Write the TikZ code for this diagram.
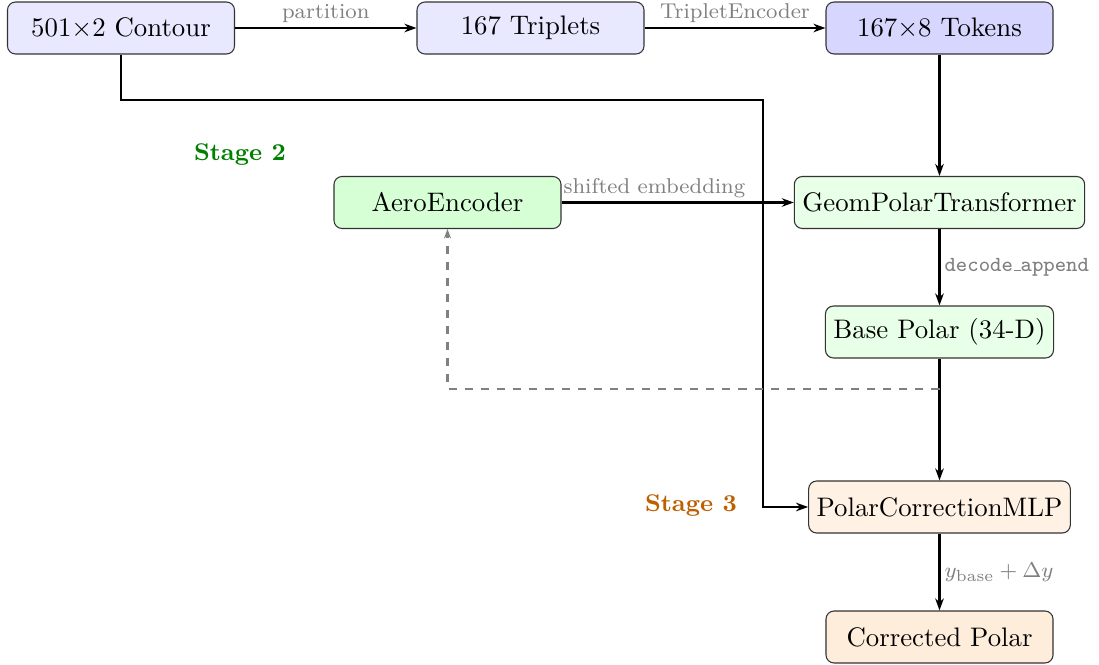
\documentclass[tikz,border=0pt]{standalone}
\usetikzlibrary{arrows.meta,calc}
\newcommand{\ttunder}{\leavevmode\kern.06em\vbox{\hrule width.3em}}
\begin{document}
\begin{tikzpicture}[x=0.3731pt,y=-0.3731pt,
  box/.style={draw=black!80,rounded corners=3pt,minimum width=84.7pt,minimum height=19.4pt,inner xsep=3pt,font=\normalsize},
  arr/.style={thick,-{Stealth[length=4.5pt,width=3.2pt]}},
  lab/.style={font=\footnotesize,text=gray,inner sep=1.5pt},
  stagelab/.style={font=\small\bfseries}
]
\useasboundingbox (0,0) rectangle (1099,665);
\node[box,fill=blue!9] (contour) at (121,28) {$501{\times}2$ Contour};
\node[box,fill=blue!9] (trip) at (530.5,28) {167 Triplets};
\node[box,fill=blue!16] (tok) at (939.5,28) {$167{\times}8$ Tokens};
\node[box,fill=green!16] (aero) at (447.5,202.5) {AeroEncoder};
\node[box,fill=green!9] (geom) at (939.5,202.5) {GeomPolarTransformer};
\node[box,fill=green!9] (base) at (939.5,332) {Base Polar (34-D)};
\node[box,fill=orange!10] (pcm) at (939.5,507) {PolarCorrectionMLP};
\node[box,fill=orange!14] (corr) at (939.5,637) {Corrected Polar};
\node[stagelab,text=green!50!black] (s2) at (240,155) {Stage 2};
\node[stagelab,text=orange!75!black] (s3) at (691,506) {Stage 3};

\coordinate (k1) at (763,100);
\coordinate (br) at (939.5,389);

\draw[arr] (contour) -- node[lab,above]{partition} (trip);
\draw[arr] (trip) -- node[lab,above]{TripletEncoder} (tok);
\draw[arr] (tok) -- (geom);
\draw[arr] (aero) -- node[lab,above,pos=0.4]{shifted embedding} (geom);
\draw[arr] (geom) -- node[lab,right]{\texttt{decode\ttunder append}} (base);
\draw[arr] (base) -- (pcm);
\draw[arr] (pcm) -- node[lab,right]{$y_{\mathrm{base}}+\Delta y$} (corr);
\draw[arr] (contour.south) |- (k1) |- (pcm.west);
\draw[thick,dashed,gray,-{Stealth[length=3.5pt,width=2.6pt]}] (br) -| (aero.south);
\end{tikzpicture}
\end{document}
